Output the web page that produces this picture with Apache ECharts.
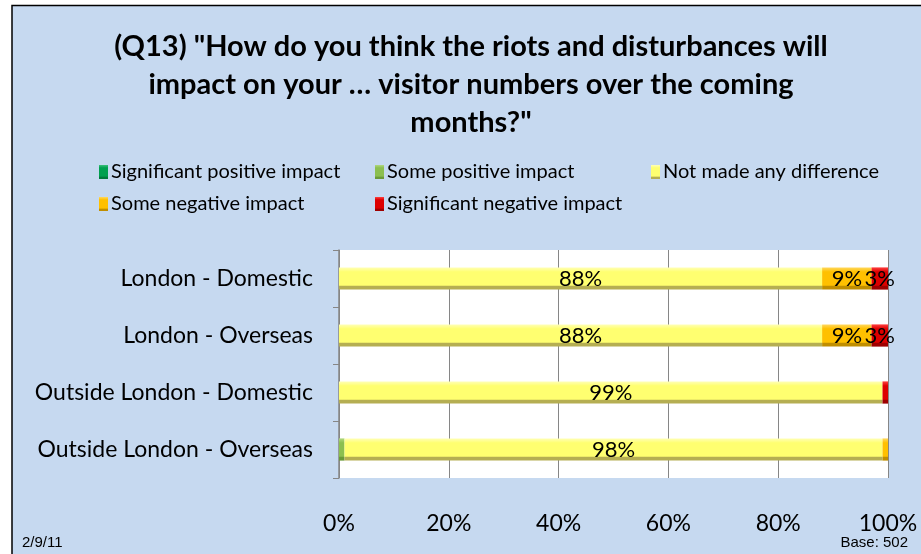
<!DOCTYPE html>
<html><head><meta charset="utf-8">
<script src="https://cdn.jsdelivr.net/npm/echarts@6/dist/echarts.min.js"></script>
<style>html,body{margin:0;padding:0;background:#fff}#c{width:921px;height:554px}</style>
</head><body><div id="c"></div>
<script>
const categories = ['London - Domestic','London - Overseas','Outside London - Domestic','Outside London - Overseas'];
const seriesNames = ['Significant positive impact','Some positive impact','Not made any difference','Some negative impact','Significant negative impact'];
const sigPositive = [0, 0, 0, 0];
const somePositive = [0, 0, 0, 1];
const noDifference = [88, 88, 99, 98];
const someNegative = [9, 9, 0, 1];
const sigNegative = [3, 3, 1, 0];
const xTicks = ['0%','20%','40%','60%','80%','100%'];

const values = [sigPositive, somePositive, noDifference, someNegative, sigNegative];
const palette = [
  ['#3CC07A','#00A050','#007A3C'],
  ['#B0D880','#8CBF50','#6A9A38'],
  ['#FFFFB8','#FFFF70','#B5AE52'],
  ['#FFD860','#FFC000','#C08E00'],
  ['#FF4040','#DD0000','#9E0000']
];
const font = 'Lato, "Open Sans", sans-serif';
function grad(p){
  return {type:'linear',x:0,y:0,x2:0,y2:1,colorStops:[
    {offset:0,color:p[0]},{offset:0.2,color:p[1]},{offset:0.8,color:p[1]},{offset:0.86,color:p[2]},{offset:1,color:p[2]}]};
}
const legendLeft = [94, 370, 646, 94, 370];
const legendTop = [157, 157, 157, 189, 189];

const chart = echarts.init(document.getElementById('c'));
chart.setOption({
  backgroundColor:'#ffffff',
  animation:false,
  graphic:[{type:'rect',z:-10,shape:{x:12,y:5.5,width:940,height:600},style:{fill:'#C6D9F0',stroke:'#000',lineWidth:1.5}},
    {type:'text',left:22,top:535,style:{text:'2/9/11',font:'15px "Liberation Sans", Arial',fill:'#000'}},
    {type:'text',right:13,top:535,style:{text:'Base: 502',font:'15px "Liberation Sans", Arial',fill:'#000'}}
  ],
  title:{text:'(Q13) "How do you think the riots and disturbances will\nimpact on your … visitor numbers over the coming\nmonths?"',
    left:466, top:23, textAlign:'center',
    textStyle:{fontFamily:font,fontSize:29,fontWeight:'bold',color:'#000',lineHeight:38}},
  legend: seriesNames.map((n,i)=>({data:[n],left:legendLeft[i],top:legendTop[i],itemWidth:9,itemHeight:14,itemGap:0,
    icon:'rect',textStyle:{fontFamily:font,fontSize:20,color:'#000',padding:[0,0,0,-2]}})),
  grid:{left:339,right:33,top:250,bottom:76,backgroundColor:'#fff',show:true,borderWidth:0},
  xAxis:{type:'value',min:0,max:100,interval:20,
    axisLabel:{formatter:(v)=>xTicks[v/20],fontFamily:font,fontSize:23,color:'#000',margin:34},
    axisLine:{show:false},axisTick:{show:false},
    splitLine:{lineStyle:{color:'#868686',width:1}}},
  yAxis:{type:'category',data:categories,inverse:true,
    axisLine:{lineStyle:{color:'#868686',width:1.5}},
    axisTick:{show:true,length:6,lineStyle:{color:'#868686'}},
    axisLabel:{fontFamily:font,fontSize:23,color:'#000',margin:26}},
  series: seriesNames.map((n,i)=>({
    name:n,type:'bar',stack:'total',barWidth:'39%',
    data:values[i],
    itemStyle:{color:grad(palette[i])},
    label:{show:true,position:'inside',color:'#000',fontFamily:font,fontSize:22,
      formatter:(p)=>p.value>=3?p.value+'%':''}
  }))
});
</script></body></html>
